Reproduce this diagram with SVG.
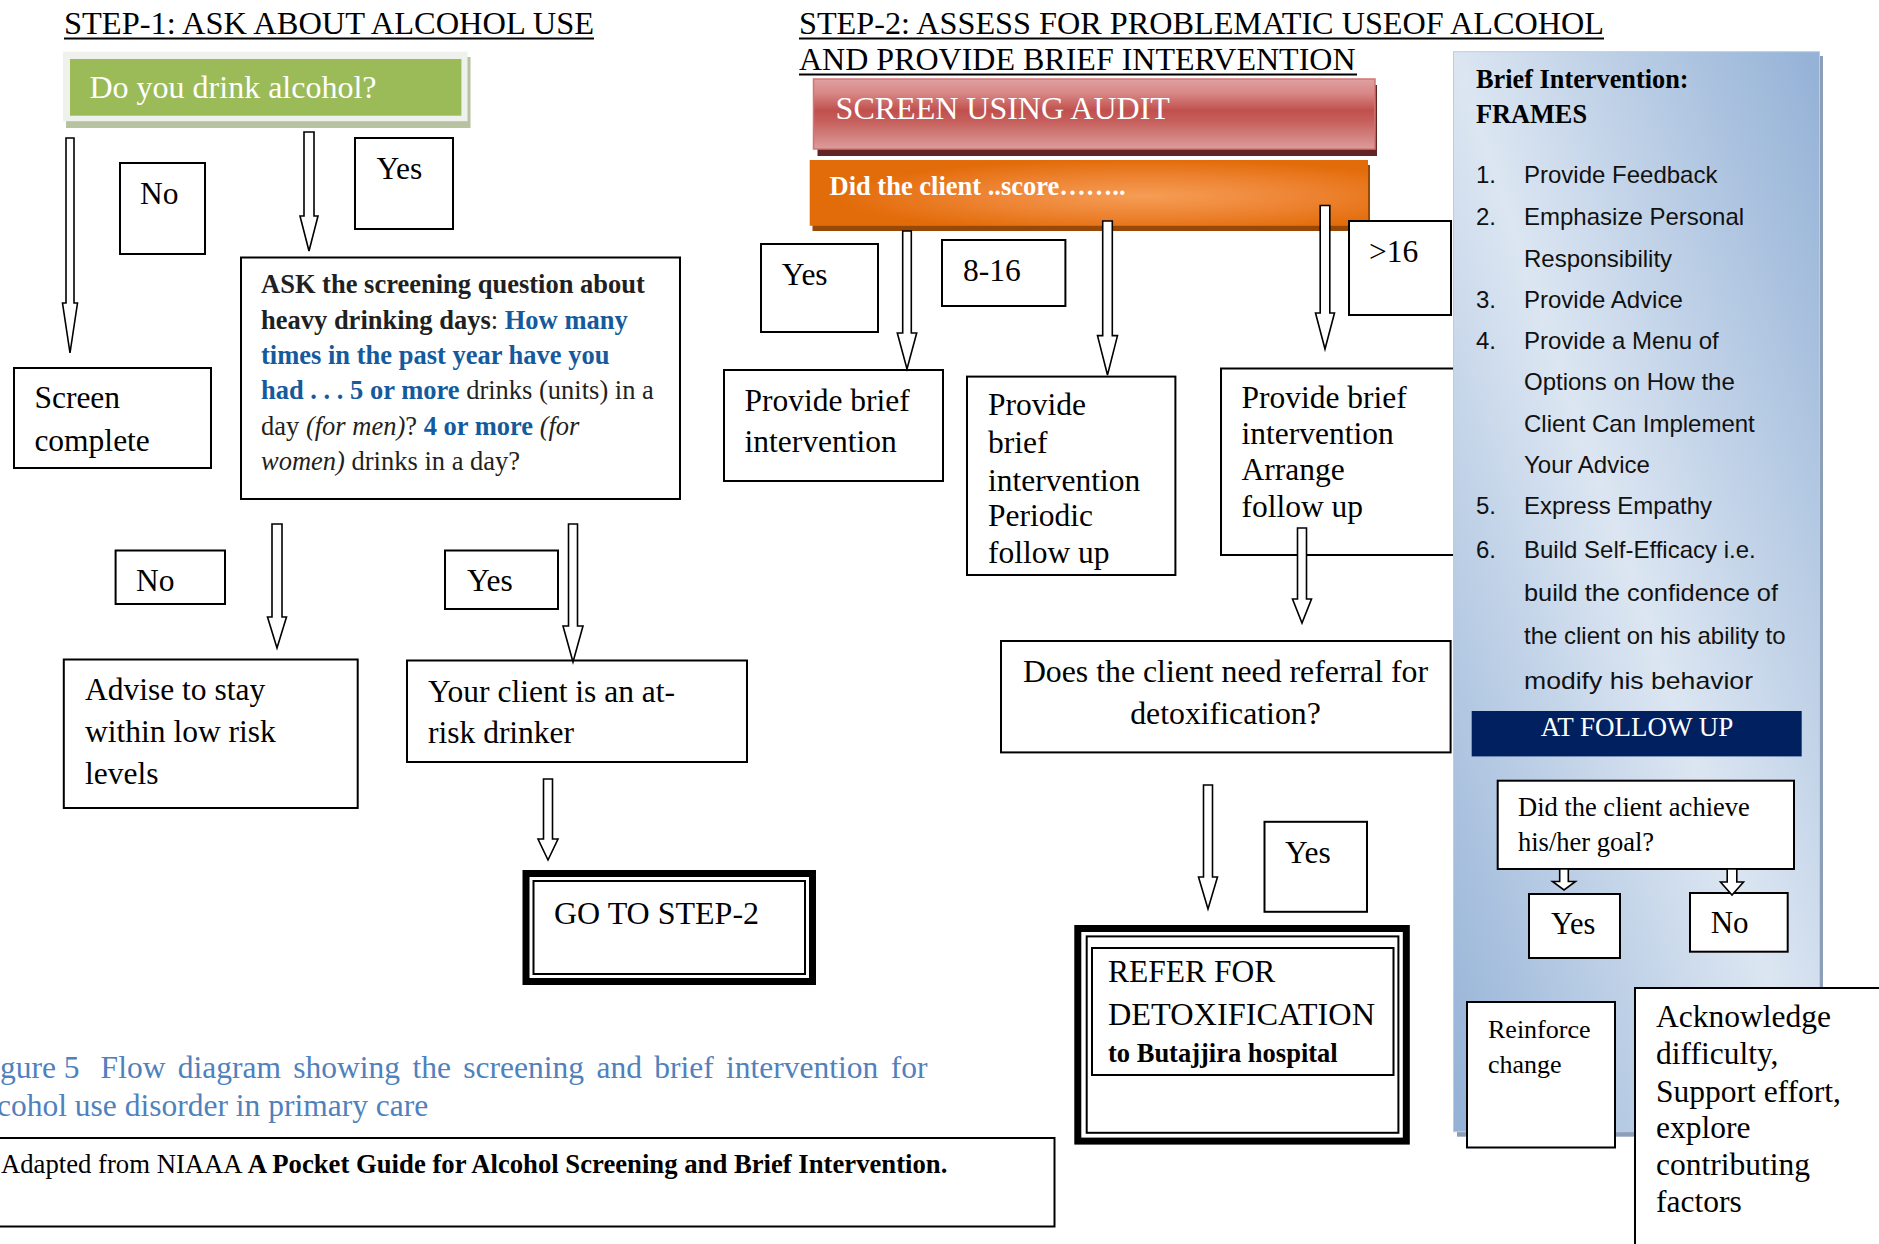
<svg xmlns="http://www.w3.org/2000/svg" width="1879" height="1244" viewBox="0 0 1879 1244">
<defs>
<style>
.t{font-family:"Liberation Serif","Times New Roman",serif;fill:#000}
.a{font-family:"Liberation Sans",Arial,sans-serif;fill:#111;font-size:24px}
.f32{font-size:32px}
.f31{font-size:31.5px}
.f26{font-size:26.5px}
.b{font-weight:bold}
.i{font-style:italic}
.blue{fill:#155a9c;font-weight:bold}
.dk{fill:#231f20}
.w{fill:#fff}
.box{fill:#fff;stroke:#000;stroke-width:2}
.ul{stroke:#000;stroke-width:2}
.arrow{fill:#fff;stroke:#000;stroke-width:1.6;stroke-linejoin:miter}
.cap{font-family:"Liberation Serif","Times New Roman",serif;fill:#4f81bd;font-size:31.5px}
</style>
<linearGradient id="redGrad" x1="0" y1="0" x2="0" y2="1">
<stop offset="0" stop-color="#dea1a0"/>
<stop offset="0.2" stop-color="#d88887"/>
<stop offset="0.45" stop-color="#c0504d"/>
<stop offset="0.6" stop-color="#c65f5c"/>
<stop offset="1" stop-color="#dc9c9b"/>
</linearGradient>
<radialGradient id="orGrad" cx="0.6" cy="0.55" r="0.55">
<stop offset="0" stop-color="#f59d55"/>
<stop offset="0.5" stop-color="#ee8535"/>
<stop offset="1" stop-color="#e36c0a"/>
</radialGradient>
<linearGradient id="panelGrad" x1="1" y1="0" x2="0" y2="1">
<stop offset="0" stop-color="#93b1d6"/>
<stop offset="0.5" stop-color="#dce6f2"/>
<stop offset="1" stop-color="#93b1d6"/>
</linearGradient>
</defs>
<rect x="0" y="0" width="1879" height="1244" fill="#fff"/>

<!-- Titles -->
<g id="title1">
<text class="t f32" x="64" y="34" textLength="530" lengthAdjust="spacingAndGlyphs">STEP-1: ASK ABOUT ALCOHOL USE</text>
<line class="ul" x1="64" y1="38.5" x2="594" y2="38.5"/>
</g>
<g id="title2">
<text class="t f32" x="799" y="34" textLength="805" lengthAdjust="spacingAndGlyphs">STEP-2: ASSESS FOR PROBLEMATIC USEOF ALCOHOL</text>
<line class="ul" x1="799" y1="38.5" x2="1604" y2="38.5"/>
<text class="t f32" x="799" y="70">AND PROVIDE BRIEF INTERVENTION</text>
<line class="ul" x1="799" y1="74.5" x2="1357" y2="74.5"/>
</g>

<!-- Step 1 nodes -->
<g id="drink">
<rect x="66" y="57" width="404.5" height="71" fill="#b6c2a0"/>
<rect x="63" y="51.7" width="404.5" height="69.5" fill="#eff1ec"/>
<rect x="70" y="59" width="391.4" height="56.7" fill="#9bbb59"/>
<text class="t f32 w" x="89.5" y="98">Do you drink alcohol?</text>
</g>
<g id="no1"><rect class="box" x="120" y="163" width="85" height="91"/><text class="t f31" x="140" y="204">No</text></g>
<g id="yes1"><rect class="box" x="355" y="138" width="98" height="91"/><text class="t f31" x="376.5" y="179">Yes</text></g>
<g id="screen-complete"><rect class="box" x="14" y="368" width="197" height="100"/>
<text class="t f31" x="34.4" y="408">Screen</text><text class="t f31" x="34.4" y="450.7">complete</text></g>
<g id="ask">
<rect class="box" x="241" y="257.5" width="439" height="241.5"/>
<text class="t f26 dk" x="261" y="293.3"><tspan class="b">ASK the screening question about</tspan></text>
<text class="t f26 dk" x="261" y="328.6"><tspan class="b">heavy drinking days</tspan>: <tspan class="blue">How many</tspan></text>
<text class="t f26 blue" x="261" y="363.9">times in the past year have you</text>
<text class="t f26 dk" x="261" y="399.2"><tspan class="blue">had . . . 5 or more</tspan> drinks (units) in a</text>
<text class="t f26 dk" x="261" y="434.5">day <tspan class="i">(for men)</tspan>? <tspan class="blue">4 or more</tspan> <tspan class="i">(for</tspan></text>
<text class="t f26 dk" x="261" y="469.8"><tspan class="i">women)</tspan> drinks in a day?</text>
</g>
<g id="no2"><rect class="box" x="115.6" y="550.5" width="109.4" height="53.5"/><text class="t f31" x="136" y="591.4">No</text></g>
<g id="yes2"><rect class="box" x="445" y="550.5" width="113" height="58.5"/><text class="t f31" x="467" y="591.4">Yes</text></g>
<g id="advise"><rect class="box" x="63.8" y="659.5" width="293.9" height="148.5"/>
<text class="t f31" x="85" y="700">Advise to stay</text>
<text class="t f31" x="85" y="742">within low risk</text>
<text class="t f31" x="85" y="784">levels</text></g>
<g id="atrisk"><rect class="box" x="407" y="660.5" width="340" height="101.5"/>
<text class="t f31" x="428" y="702">Your client is an at-</text>
<text class="t f31" x="428" y="743">risk drinker</text></g>
<g id="goto2">
<rect x="526" y="873.5" width="286.5" height="108" fill="#fff" stroke="#000" stroke-width="7"/>
<rect x="533.5" y="881" width="271.5" height="93" fill="none" stroke="#000" stroke-width="2"/>
<text class="t f32" x="554" y="924">GO TO STEP-2</text>
</g>

<!-- Caption and source -->
<g id="caption">
<text class="cap" x="0" y="1078">gure 5<tspan dx="21" word-spacing="4.5">Flow diagram showing the screening and brief intervention for</tspan></text>
<text class="cap" x="-3" y="1116">cohol use disorder in primary care</text>
</g>
<g id="source">
<rect class="box" x="-10" y="1138" width="1064.5" height="88.5"/>
<text class="t" font-size="26.7px" x="1" y="1173">Adapted from NIAAA <tspan class="b">A Pocket Guide for Alcohol Screening and Brief Intervention.</tspan></text>
</g>

<!-- Step 2 nodes -->
<g id="audit">
<rect x="817.5" y="85" width="559.5" height="71" fill="#632523"/>
<rect x="813.5" y="79" width="561.5" height="70" fill="url(#redGrad)" stroke="#d47574" stroke-width="1.5"/>
<text class="t f32 w" x="835.6" y="119.4">SCREEN USING AUDIT</text>
</g>
<g id="score">
<rect x="812.5" y="165" width="557.5" height="66" fill="#984807"/>
<rect x="809.7" y="160" width="558.3" height="65.8" fill="url(#orGrad)"/>
<text class="t f26 b w" x="829.5" y="195">Did the client ..score……..</text>
</g>
<g id="yes3"><rect class="box" x="761" y="244" width="117" height="88"/><text class="t f31" x="781.8" y="285">Yes</text></g>
<g id="r8-16"><rect class="box" x="942" y="240" width="123.4" height="66"/><text class="t f31" x="963" y="281.3">8-16</text></g>
<g id="gt16"><rect class="box" x="1349" y="221" width="102" height="94"/><text class="t f31" x="1369" y="262">&gt;16</text></g>
<g id="bi1"><rect class="box" x="724" y="370" width="219" height="111"/>
<text class="t f31" x="744.5" y="410.6">Provide brief</text>
<text class="t f31" x="744.5" y="451.6">intervention</text></g>
<g id="bi2"><rect class="box" x="967" y="376.6" width="208.4" height="198.4"/>
<text class="t f31" x="988" y="415">Provide</text>
<text class="t f31" x="988" y="452.7">brief</text>
<text class="t f31" x="988" y="491">intervention</text>
<text class="t f31" x="988" y="526">Periodic</text>
<text class="t f31" x="988" y="562.6">follow up</text></g>
<g id="bi3"><rect class="box" x="1221" y="368.5" width="233" height="186.5"/>
<text class="t f31" x="1241.5" y="408">Provide brief</text>
<text class="t f31" x="1241.5" y="444">intervention</text>
<text class="t f31" x="1241.5" y="480">Arrange</text>
<text class="t f31" x="1241.5" y="516.6">follow up</text></g>
<g id="referral-q"><rect class="box" x="1001" y="641" width="449.6" height="111.4"/>
<text class="t" font-size="31.8px" x="1225.5" y="682" text-anchor="middle">Does the client need referral for</text>
<text class="t" font-size="31.8px" x="1225.5" y="723.6" text-anchor="middle">detoxification?</text></g>
<g id="yes4"><rect class="box" x="1264.5" y="821.8" width="102.5" height="90"/><text class="t f31" x="1285" y="863">Yes</text></g>
<g id="refer">
<rect x="1077.8" y="928.5" width="328.5" height="212.6" fill="#fff" stroke="#000" stroke-width="7"/>
<rect x="1086.7" y="936.4" width="311.7" height="196.4" fill="none" stroke="#000" stroke-width="2"/>
<rect x="1092" y="948" width="301.5" height="127" fill="none" stroke="#000" stroke-width="2"/>
<text class="t f31" x="1108" y="982">REFER FOR</text>
<text class="t" font-size="31.5px" x="1108" y="1024.7" textLength="267" lengthAdjust="spacingAndGlyphs">DETOXIFICATION</text>
<text class="t f26 b" x="1108" y="1061.7">to Butajjira hospital</text>
</g>

<!-- FRAMES panel -->
<g id="frames-panel">
<rect x="1457" y="56" width="366" height="1080.7" fill="#8d9fb7"/>
<rect x="1453.5" y="51.7" width="366" height="1080" fill="url(#panelGrad)" stroke="#b9cde5" stroke-width="1"/>
<text class="t b" font-size="26.3px" x="1476" y="88">Brief Intervention:</text>
<text class="t b" font-size="26.3px" x="1476" y="122.6">FRAMES</text>
<text class="a" x="1476" y="183">1.</text><text class="a" x="1524" y="183">Provide Feedback</text>
<text class="a" x="1476" y="225">2.</text><text class="a" x="1524" y="225">Emphasize Personal</text>
<text class="a" x="1524" y="266.5">Responsibility</text>
<text class="a" x="1476" y="308">3.</text><text class="a" x="1524" y="308">Provide Advice</text>
<text class="a" x="1476" y="349">4.</text><text class="a" x="1524" y="349">Provide a Menu of</text>
<text class="a" x="1524" y="390">Options on How the</text>
<text class="a" x="1524" y="431.7">Client Can Implement</text>
<text class="a" x="1524" y="472.8">Your Advice</text>
<text class="a" x="1476" y="514">5.</text><text class="a" x="1524" y="514">Express Empathy</text>
<text class="a" x="1476" y="558">6.</text><text class="a" x="1524" y="558">Build Self-Efficacy i.e.</text>
<text class="a" x="1524" y="600.6" textLength="254" lengthAdjust="spacingAndGlyphs">build the confidence of</text>
<text class="a" x="1524" y="644">the client on his ability to</text>
<text class="a" x="1524" y="689" textLength="229" lengthAdjust="spacingAndGlyphs">modify his behavior</text>
</g>
<g id="at-follow-up">
<rect x="1471.7" y="711" width="330" height="45.4" fill="#002060"/>
<text class="t w" font-size="27px" x="1637" y="736" text-anchor="middle">AT FOLLOW UP</text>
</g>
<g id="goal-q"><rect class="box" x="1497.7" y="780.7" width="296.3" height="88.3"/>
<text class="t f26" x="1518" y="816">Did the client achieve</text>
<text class="t f26" x="1518" y="850.7">his/her goal?</text></g>
<g id="goal-yes"><rect class="box" x="1529" y="894" width="91" height="64"/><text class="t" font-size="30.5px" x="1551" y="934">Yes</text></g>
<g id="goal-no"><rect class="box" x="1690" y="893" width="97.7" height="58.7"/><text class="t" font-size="31px" x="1710.7" y="933">No</text></g>
<g id="reinforce"><rect class="box" x="1467" y="1002" width="148" height="145.5"/>
<text class="t" font-size="26px" x="1488" y="1037.7">Reinforce</text>
<text class="t" font-size="26px" x="1488" y="1073">change</text></g>
<g id="acknowledge"><rect class="box" x="1635" y="988" width="300" height="300"/>
<text class="t f31" x="1656" y="1026.7">Acknowledge</text>
<text class="t f31" x="1656" y="1064">difficulty,</text>
<text class="t f31" x="1656" y="1101.7">Support effort,</text>
<text class="t f31" x="1656" y="1138">explore</text>
<text class="t f31" x="1656" y="1175">contributing</text>
<text class="t f31" x="1656" y="1211.7">factors</text></g>

<!-- Connectors -->
<g id="connectors">
<path class="arrow" d="M66,138 H74 V303 H77.5 L70,353 L62.5,303 H66 Z"/>
<path class="arrow" d="M304,132 H314 V216 H318 L309,251 L300,216 H304 Z"/>
<path class="arrow" d="M272,524 H282 V617 H286.5 L277,648 L267.5,617 H272 Z"/>
<path class="arrow" d="M568.5,524 H577.5 V626 H583 L573,662 L563,626 H568.5 Z"/>
<path class="arrow" d="M543.5,779 H552.5 V839 H558 L548,860 L538,839 H543.5 Z"/>
<path class="arrow" d="M902.7,231 H911.3 V333 H916.7 L907,369 L897.3,333 H902.7 Z"/>
<path class="arrow" d="M1102.7,221 H1112.3 V335.6 H1117.5 L1107.5,375 L1097.5,335.6 H1102.7 Z"/>
<path class="arrow" d="M1320.2,205.5 H1329.8 V313 H1334.5 L1325,349 L1315.5,313 H1320.2 Z"/>
<path class="arrow" d="M1297.5,528 H1306.5 V599 H1311.5 L1302,623 L1292.5,599 H1297.5 Z"/>
<path class="arrow" d="M1203.5,785 H1212.5 V877 H1217.5 L1208,909 L1198.5,877 H1203.5 Z"/>
<path class="arrow" d="M1559.7,869 H1568.3 V881.5 H1575.5 L1564,890 L1552.5,881.5 H1559.7 Z"/>
<path class="arrow" d="M1727.2,869 H1736.8 V882 H1743.5 L1732,895 L1720.5,882 H1727.2 Z"/>
</g>
</svg>
